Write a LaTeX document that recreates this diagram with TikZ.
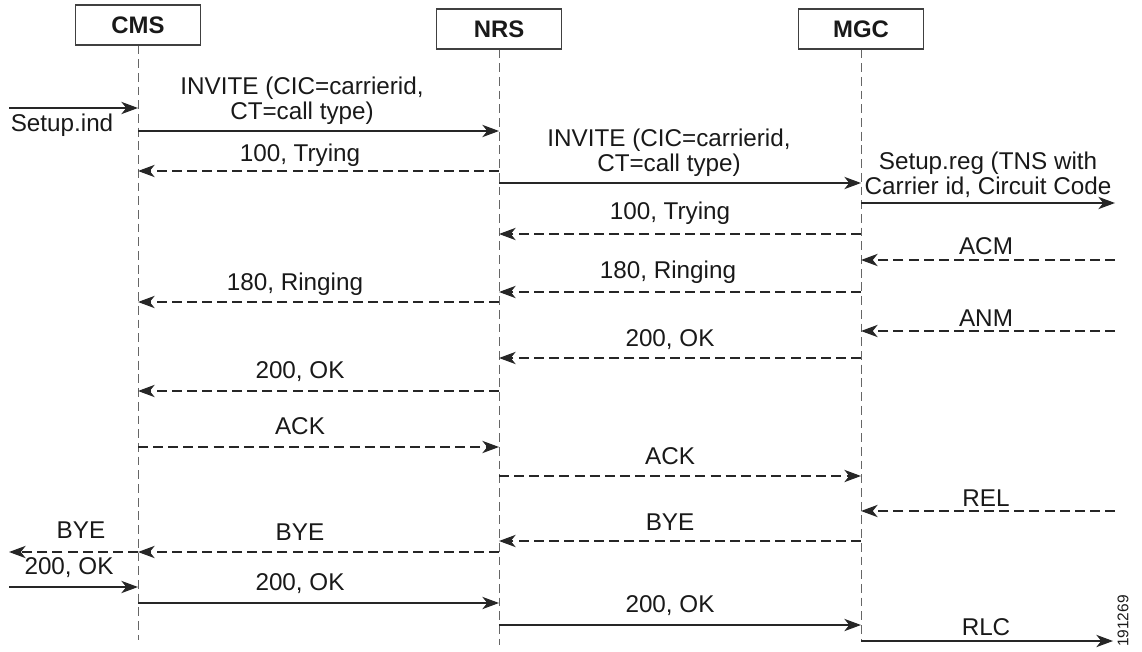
\documentclass[tikz,border=0pt]{standalone}
\usepackage{fontspec}
\setmainfont{Liberation Sans}
\usepackage{xcolor}
\usetikzlibrary{arrows.meta,backgrounds,positioning}
\pgfdeclarelayer{edgelayer}
\pgfdeclarelayer{nodelayer}
\pgfsetlayers{background,edgelayer,nodelayer,main}
\tikzstyle{none}=[inner sep=0mm]
\tikzstyle{entity}=[draw=black!75,line width=0.6pt,fill=white,minimum width=2.5cm,minimum height=0.8cm,inner sep=0pt,font=\bfseries\fontsize{13.6}{14}\selectfont,text=black!90]
\tikzstyle{lbl}=[inner sep=0mm,align=center,font=\fontsize{13.8}{14}\selectfont,text=black!90]
\tikzstyle{lifeline}=[draw=black!60,line width=0.55pt,dash pattern=on 5pt off 2.8pt]
\tikzstyle{req}=[draw=black!85,line width=0.8pt,-{Stealth[length=9.5pt,width=7pt,inset=2.8pt]}]
\tikzstyle{resp}=[req,dash pattern=on 5.7pt off 2.9pt]

\begin{document}
\begin{tikzpicture}[x=0.02cm,y=-0.02cm]
	\useasboundingbox (0,0) rectangle (1142,652);
	\begin{pgfonlayer}{nodelayer}
		\node [style=entity] (cms) at (138, 25) {CMS};
		\node [style=entity] (nrs) at (499, 29) {NRS};
		\node [style=entity] (mgc) at (861, 29) {MGC};
		\node [style=none] (cmsEnd) at (138, 640) {};
		\node [style=none] (nrsEnd) at (499, 645) {};
		\node [style=none] (mgcEnd) at (861, 641) {};
		% left and right edges
		\node [style=none] (l1) at (9, 108) {};
		\node [style=none] (l2) at (9, 552) {};
		\node [style=none] (l3) at (9, 587) {};
		\node [style=none] (r1) at (1115, 203) {};
		\node [style=none] (r2) at (1115, 260) {};
		\node [style=none] (r3) at (1115, 331) {};
		\node [style=none] (r4) at (1115, 511) {};
		\node [style=none] (r5) at (1113, 641) {};
		% points on CMS
		\node [style=none] (c1) at (138, 108) {};
		\node [style=none] (c2) at (138, 131) {};
		\node [style=none] (c3) at (138, 171) {};
		\node [style=none] (c4) at (138, 302) {};
		\node [style=none] (c5) at (138, 391) {};
		\node [style=none] (c6) at (138, 447) {};
		\node [style=none] (c7) at (138, 552) {};
		\node [style=none] (c8) at (138, 587) {};
		\node [style=none] (c9) at (138, 603) {};
		% points on NRS
		\node [style=none] (n1) at (499, 131) {};
		\node [style=none] (n2) at (499, 171) {};
		\node [style=none] (n3) at (499, 183) {};
		\node [style=none] (n4) at (499, 234) {};
		\node [style=none] (n5) at (499, 292) {};
		\node [style=none] (n6) at (499, 302) {};
		\node [style=none] (n7) at (499, 358) {};
		\node [style=none] (n8) at (499, 391) {};
		\node [style=none] (n9) at (499, 447) {};
		\node [style=none] (n10) at (499, 476) {};
		\node [style=none] (n11) at (499, 541) {};
		\node [style=none] (n12) at (499, 552) {};
		\node [style=none] (n13) at (499, 603) {};
		\node [style=none] (n14) at (499, 625) {};
		% points on MGC
		\node [style=none] (g1) at (861, 183) {};
		\node [style=none] (g2) at (861, 203) {};
		\node [style=none] (g3) at (861, 234) {};
		\node [style=none] (g4) at (861, 260) {};
		\node [style=none] (g5) at (861, 292) {};
		\node [style=none] (g6) at (861, 331) {};
		\node [style=none] (g7) at (861, 358) {};
		\node [style=none] (g8) at (861, 476) {};
		\node [style=none] (g9) at (861, 511) {};
		\node [style=none] (g10) at (861, 541) {};
		\node [style=none] (g11) at (861, 625) {};
		% labels
		\node [style=lbl] (t1) at (62, 125) {Setup.ind};
		\node [style=lbl] (t2) at (302, 101) {INVITE (CIC=carrierid,\\CT=call type)};
		\node [style=lbl] (t3) at (300, 155) {100, Trying};
		\node [style=lbl] (t4) at (669, 153) {INVITE (CIC=carrierid,\\CT=call type)};
		\node [style=lbl] (t5) at (988, 175) {Setup.reg (TNS with\\Carrier id, Circuit Code};
		\node [style=lbl] (t6) at (670, 213) {100, Trying};
		\node [style=lbl] (t7) at (986, 246) {ACM};
		\node [style=lbl] (t8) at (668, 272) {180, Ringing};
		\node [style=lbl] (t9) at (295, 284) {180, Ringing};
		\node [style=lbl] (t10) at (986, 318) {ANM};
		\node [style=lbl] (t11) at (670, 340) {200, OK};
		\node [style=lbl] (t12) at (300, 372) {200, OK};
		\node [style=lbl] (t13) at (300, 426) {ACK};
		\node [style=lbl] (t14) at (670, 456) {ACK};
		\node [style=lbl] (t15) at (986, 498) {REL};
		\node [style=lbl] (t16) at (670, 522) {BYE};
		\node [style=lbl] (t17) at (300, 532) {BYE};
		\node [style=lbl] (t18) at (81, 530) {BYE};
		\node [style=lbl] (t19) at (69, 568) {200, OK};
		\node [style=lbl] (t20) at (300, 584) {200, OK};
		\node [style=lbl] (t21) at (670, 606) {200, OK};
		\node [style=lbl] (t22) at (986, 627) {RLC};
		\node [style=lbl,rotate=90,font=\fontsize{8.8}{9}\selectfont] (fig) at (1123, 621) {191269};
	\end{pgfonlayer}
	\begin{pgfonlayer}{edgelayer}
		\draw [style=lifeline] (cms) to (cmsEnd.center);
		\draw [style=lifeline] (nrs) to (nrsEnd.center);
		\draw [style=lifeline] (mgc) to (mgcEnd.center);
		\draw [style=req] (l1.center) to (c1.center);
		\draw [style=req] (c2.center) to (n1.center);
		\draw [style=resp] (n2.center) to (c3.center);
		\draw [style=req] (n3.center) to (g1.center);
		\draw [style=req] (g2.center) to (r1.center);
		\draw [style=resp] (g3.center) to (n4.center);
		\draw [style=resp] (r2.center) to (g4.center);
		\draw [style=resp] (g5.center) to (n5.center);
		\draw [style=resp] (n6.center) to (c4.center);
		\draw [style=resp] (r3.center) to (g6.center);
		\draw [style=resp] (g7.center) to (n7.center);
		\draw [style=resp] (n8.center) to (c5.center);
		\draw [style=resp] (c6.center) to (n9.center);
		\draw [style=resp] (n10.center) to (g8.center);
		\draw [style=resp] (r4.center) to (g9.center);
		\draw [style=resp] (g10.center) to (n11.center);
		\draw [style=resp] (n12.center) to (c7.center);
		\draw [style=resp] (c7.center) to (l2.center);
		\draw [style=req] (l3.center) to (c8.center);
		\draw [style=req] (c9.center) to (n13.center);
		\draw [style=req] (n14.center) to (g11.center);
		\draw [style=req] (mgcEnd.center) to (r5.center);
	\end{pgfonlayer}
\end{tikzpicture}
\end{document}
